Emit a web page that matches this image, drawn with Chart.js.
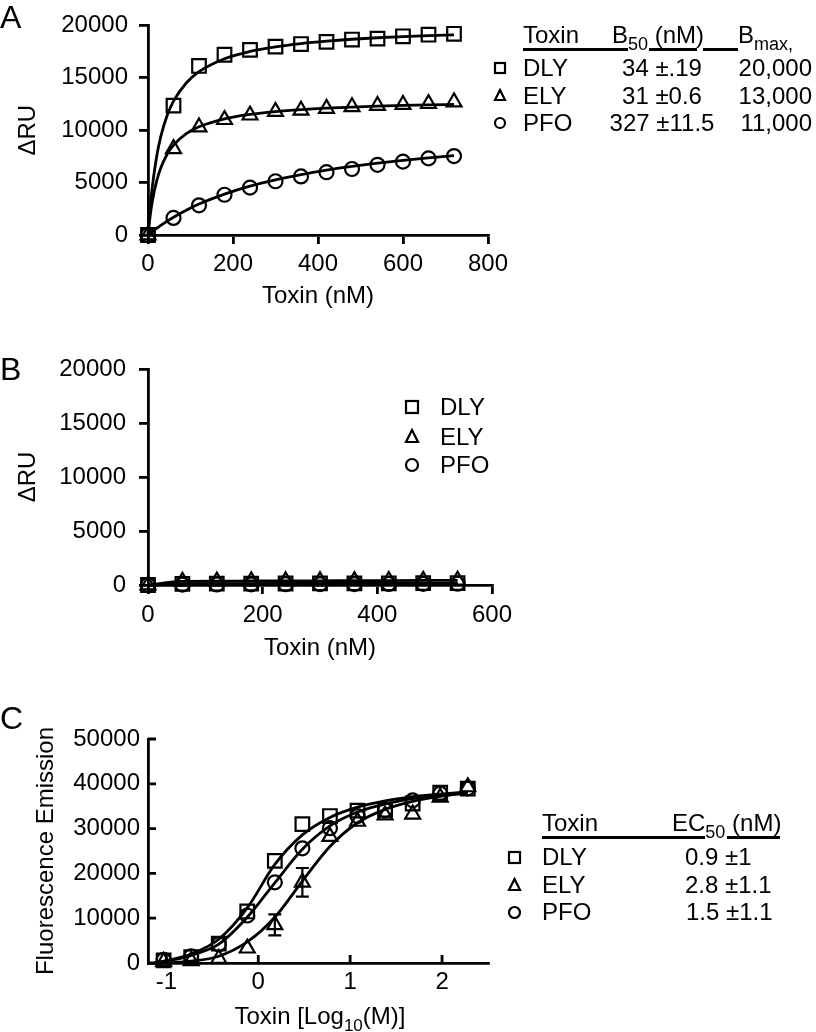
<!DOCTYPE html>
<html>
<head>
<meta charset="utf-8">
<script src="https://cdn.jsdelivr.net/npm/chart.js@4.4.1/dist/chart.umd.min.js"></script>
<style>
html,body{margin:0;padding:0;background:#fff;}
body{position:relative;width:816px;height:1032px;overflow:hidden;font-family:"Liberation Sans",Arial,Helvetica,sans-serif;color:#000;}
canvas{position:absolute;left:0;}
.t{position:absolute;font-size:24px;line-height:24px;white-space:nowrap;}
.t sub{font-size:18px;vertical-align:baseline;position:relative;top:7px;}
.lt{position:absolute;font-size:32px;line-height:32px;left:0;}
.ul{position:absolute;height:3px;background:#000;}
svg.mk{position:absolute;overflow:visible;}
</style>
</head>
<body>
<canvas id="cA" width="816" height="330" style="top:0px"></canvas>
<canvas id="cB" width="816" height="340" style="top:340px"></canvas>
<canvas id="cC" width="816" height="352" style="top:680px"></canvas>

<div class="lt" style="top:1px">A</div>
<div class="lt" style="top:353px">B</div>
<div class="lt" style="top:702px">C</div>

<!-- Panel A table -->
<div class="t" style="left:523px;top:22.7px">Toxin</div>
<div class="t" style="left:612px;top:22.7px">B<sub>50</sub> (nM)</div>
<div class="t" style="left:738px;top:22.7px">B<sub>max,</sub></div>
<div class="ul" style="left:523px;width:105px;top:48px"></div>
<div class="ul" style="left:649px;width:48px;top:48px"></div>
<div class="ul" style="left:703px;width:35px;top:48px"></div>
<div class="t" style="left:523px;top:56.3px">DLY</div>
<div class="t" style="left:523px;top:84.3px">ELY</div>
<div class="t" style="left:523px;top:111.3px">PFO</div>
<div class="t" style="left:602px;width:120px;text-align:center;top:56.3px">34 ±.19</div>
<div class="t" style="left:602px;width:120px;text-align:center;top:84.3px">31 ±0.6</div>
<div class="t" style="left:602px;width:120px;text-align:center;top:111.3px">327 ±11.5</div>
<div class="t" style="left:702px;width:110px;text-align:right;top:56.3px">20,000</div>
<div class="t" style="left:702px;width:110px;text-align:right;top:84.3px">13,000</div>
<div class="t" style="left:702px;width:110px;text-align:right;top:111.3px">11,000</div>

<!-- Panel B legend -->
<div class="t" style="left:440px;top:395.3px">DLY</div>
<div class="t" style="left:440px;top:425.3px">ELY</div>
<div class="t" style="left:440px;top:453.3px">PFO</div>

<!-- Panel C table -->
<div class="t" style="left:542px;top:810.7px">Toxin</div>
<div class="t" style="left:672px;top:810.7px">EC<sub>50</sub> (nM)</div>
<div class="ul" style="left:542px;width:163px;top:836px"></div>
<div class="ul" style="left:727px;width:53px;top:836px"></div>
<div class="t" style="left:542px;top:845.3px">DLY</div>
<div class="t" style="left:542px;top:873.3px">ELY</div>
<div class="t" style="left:542px;top:900.3px">PFO</div>
<div class="t" style="left:685px;top:845.3px">0.9 ±1</div>
<div class="t" style="left:685px;top:873.3px">2.8 ±1.1</div>
<div class="t" style="left:686px;top:900.3px">1.5 ±1.1</div>

<!-- Panel C x title -->
<div class="t" style="left:120px;width:400px;text-align:center;top:1003.5px">Toxin [Log<sub style="font-size:17px">10</sub>(M)]</div>

<script>
// ---------------- Data ----------------
// Panel A: binding (ΔRU) vs toxin (nM)
const aX    = [0, 60, 120, 180, 240, 300, 360, 420, 480, 540, 600, 660, 720];
const aDLY  = [0, 12350, 16130, 17200, 17670, 17970, 18220, 18430, 18650, 18740, 18960, 19110, 19200];
const aELY  = [0, 8230, 10290, 11000, 11430, 11770, 11890, 12070, 12230, 12350, 12440, 12530, 12690];
const aPFO  = [0, 1630, 2830, 3840, 4520, 5130, 5590, 5990, 6300, 6700, 7000, 7310, 7530];
// fitted curves
const aFitX    = [0, 5, 10, 20, 30, 45, 60, 90, 120, 180, 240, 300, 360, 420, 480, 540, 600, 660, 720];
const aDLYfit  = [0, 2560, 4550, 7400, 9380, 11400, 12770, 14500, 15580, 16820, 17520, 17960, 18270, 18500, 18680, 18820, 18930, 19020, 19100];
const aELYfit  = [0, 1810, 3170, 5100, 6390, 7700, 8570, 9670, 10330, 11090, 11510, 11780, 11970, 12110, 12210, 12290, 12360, 12420, 12460];
const aPFOfitX = [0, 30, 60, 90, 120, 180, 240, 300, 360, 420, 480, 540, 600, 660, 720];
const aPFOfit  = [0, 920, 1700, 2370, 2950, 3900, 4660, 5260, 5760, 6190, 6540, 6850, 7120, 7360, 7570];
const aXTicks = [0, 200, 400, 600, 800];
const aYTicks = [0, 5000, 10000, 15000, 20000];

// Panel B: control surface
const bX   = [0, 60, 120, 180, 240, 300, 360, 420, 480, 540];
const bDLY = [0, 100, 120, 130, 140, 150, 150, 160, 170, 180];
const bELY = [0, 330, 350, 370, 380, 390, 400, 410, 420, 430];
const bPFO = [0, 40, 50, 60, 70, 80, 90, 100, 110, 120];
const bXTicks = [0, 200, 400, 600];
const bYTicks = [0, 5000, 10000, 15000, 20000];

// Panel C: fluorescence vs log10 toxin
const cX   = [-1.03, -0.73, -0.43, -0.12, 0.18, 0.48, 0.78, 1.08, 1.38, 1.68, 1.98, 2.28];
const cDLY = [600, 1300, 4300, 11500, 22800, 31000, 32800, 34000, 34200, 35600, 38000, 38900];
const cELY = [300, 500, 1000, 3300, 8500, 18000, 28200, 31600, 33000, 33200, 37000, 39300];
const cPFO = [700, 1500, 4200, 10600, 18000, 25600, 30100, 32800, 34100, 36300, 37800, 39000];
const cELYerr = [0, 0, 0, 0, 2350, 3200, 0, 0, 0, 0, 0, 0];
const cFitX   = [-1.13, -1.03, -0.73, -0.43, -0.12, 0.18, 0.48, 0.78, 1.08, 1.38, 1.68, 1.98, 2.28];
const cDLYfit = [0, 400, 2000, 5300, 12300, 22000, 28600, 32500, 34800, 36200, 37100, 37700, 38200];
const cELYfit = [0, 0, 400, 1500, 4700, 10200, 18300, 26000, 31300, 34300, 36100, 37200, 37900];
const cPFOfit = [0, 300, 1700, 4200, 10200, 17900, 25400, 30600, 33700, 35500, 36700, 37500, 38100];
const cXTicks = [-1, 0, 1, 2];
const cYTicks = [0, 10000, 20000, 30000, 40000, 50000];

// ---------------- Helpers ----------------
const FONT = "'Liberation Sans', Arial, Helvetica, sans-serif";
const pts = (xs, ys) => xs.map((x, i) => ({x: x, y: ys[i]}));
const RAD = {rect: 9.6, circle: 7, triangle: 8.6};

function markers(xs, ys, style) {
  return {
    type: 'scatter', data: pts(xs, ys), showLine: false,
    pointStyle: style, pointRadius: RAD[style], pointHoverRadius: RAD[style],
    pointBorderWidth: 2.2, pointBorderColor: '#000', pointBackgroundColor: 'rgba(0,0,0,0)',
    clip: false, order: 1
  };
}
function curve(xs, ys) {
  return {
    type: 'scatter', data: pts(xs, ys), showLine: true,
    borderColor: '#000', borderWidth: 2.8, pointRadius: 0, pointHoverRadius: 0,
    cubicInterpolationMode: 'monotone', fill: false, clip: false, order: 2
  };
}
function axis(o) {
  return {
    type: 'linear', min: o.min, max: o.max,
    afterBuildTicks: s => { s.ticks = o.ticks.map(v => ({value: v})); },
    afterFit: s => { if (o.w !== undefined) s.width = o.w; if (o.h !== undefined) s.height = o.h; },
    grid: {display: true, drawOnChartArea: false, drawTicks: o.tl > 0, tickLength: o.tl || 0,
           tickWidth: 2.8, tickColor: '#000', color: '#000', lineWidth: 2.8},
    border: {display: true, color: '#000', width: 2.8},
    ticks: {color: '#000', font: {family: FONT, size: 24}, padding: o.pad, autoSkip: false,
            maxRotation: 0, minRotation: 0, callback: v => String(v)},
    title: o.title ? {display: true, text: o.title, color: '#000',
                      font: {family: FONT, size: 24, lineHeight: 1.2}, padding: o.tpad}
                   : {display: false}
  };
}
function baseOpts(padding, scales) {
  return {
    responsive: false, animation: false, events: [],
    layout: {padding: padding},
    plugins: {legend: {display: false}, tooltip: {enabled: false}},
    scales: scales
  };
}

// ---------------- Panel A ----------------
new Chart(document.getElementById('cA'), {
  type: 'scatter',
  data: {datasets: [
    curve(aFitX, aDLYfit), curve(aFitX, aELYfit), curve(aPFOfitX, aPFOfit),
    markers(aX, aDLY, 'rect'), markers(aX, aELY, 'triangle'), markers(aX, aPFO, 'circle')
  ]},
  options: baseOpts({left: 0, top: 18, right: 328, bottom: 0}, {
    x: axis({min: 0, max: 800, ticks: aXTicks, h: 95, tl: 9, pad: 6, title: 'Toxin (nM)', tpad: {top: 0, bottom: 19.6}}),
    y: axis({min: 0, max: 20000, ticks: aYTicks, w: 148, tl: 9, pad: 11, title: 'ΔRU', tpad: {top: 13.6, bottom: 0}})
  })
});

// ---------------- Panel B ----------------
new Chart(document.getElementById('cB'), {
  type: 'scatter',
  data: {datasets: [
    curve(bX, bDLY), curve(bX, bELY), curve(bX, bPFO),
    markers(bX, bDLY, 'rect'), markers(bX, bELY, 'triangle'), markers(bX, bPFO, 'circle')
  ]},
  options: baseOpts({left: 0, top: 29, right: 324, bottom: 0}, {
    x: axis({min: 0, max: 600, ticks: bXTicks, h: 95, tl: 9, pad: 7, title: 'Toxin (nM)', tpad: {top: 0, bottom: 17.6}}),
    y: axis({min: 0, max: 20000, ticks: bYTicks, w: 148, tl: 9, pad: 13, title: 'ΔRU', tpad: {top: 13.6, bottom: 0}})
  })
});

// ---------------- Panel C ----------------
const inwardTicks = {
  id: 'inwardTicks',
  afterDraw(chart) {
    const ctx = chart.ctx, x = chart.scales.x, y = chart.scales.y, ca = chart.chartArea;
    ctx.save();
    ctx.strokeStyle = '#000'; ctx.lineWidth = 2.8;
    ctx.beginPath();
    cXTicks.forEach(v => { const px = x.getPixelForValue(v); ctx.moveTo(px, ca.bottom); ctx.lineTo(px, ca.bottom - 8); });
    cYTicks.forEach(v => { const py = y.getPixelForValue(v); ctx.moveTo(ca.left, py); ctx.lineTo(ca.left + 8, py); });
    ctx.stroke();
    ctx.restore();
  }
};
const errorBars = {
  id: 'errorBars',
  afterDatasetsDraw(chart) {
    const ctx = chart.ctx, x = chart.scales.x, y = chart.scales.y;
    ctx.save();
    ctx.strokeStyle = '#000'; ctx.lineWidth = 2.2;
    cX.forEach((xv, i) => {
      const e = cELYerr[i];
      if (!e) return;
      const px = x.getPixelForValue(xv);
      const y1 = y.getPixelForValue(cELY[i] + e), y2 = y.getPixelForValue(cELY[i] - e);
      ctx.beginPath();
      ctx.moveTo(px, y1); ctx.lineTo(px, y2);
      ctx.moveTo(px - 6.5, y1); ctx.lineTo(px + 6.5, y1);
      ctx.moveTo(px - 6.5, y2); ctx.lineTo(px + 6.5, y2);
      ctx.stroke();
    });
    ctx.restore();
  }
};
new Chart(document.getElementById('cC'), {
  type: 'scatter',
  data: {datasets: [
    curve(cFitX, cDLYfit), curve(cFitX, cELYfit), curve(cFitX, cPFOfit),
    markers(cX, cDLY, 'rect'), markers(cX, cELY, 'triangle'), markers(cX, cPFO, 'circle')
  ]},
  options: baseOpts({left: 0, top: 59, right: 328, bottom: 0}, {
    x: axis({min: -1.2, max: 2.5, ticks: cXTicks, h: 69, tl: 0, pad: 5}),
    y: axis({min: 0, max: 50000, ticks: cYTicks, w: 148, tl: 0, pad: 8, title: 'Fluorescence Emission', tpad: {top: 31.6, bottom: 0}})
  }),
  plugins: [inwardTicks, errorBars]
});

// ---------------- Legend symbols ----------------
function mk(shape, cx, cy, s) {
  const ns = 'http://www.w3.org/2000/svg';
  const svg = document.createElementNS(ns, 'svg');
  svg.setAttribute('class', 'mk');
  svg.setAttribute('width', s + 4); svg.setAttribute('height', s + 4);
  svg.style.left = (cx - s / 2 - 2) + 'px'; svg.style.top = (cy - s / 2 - 2) + 'px';
  let el;
  if (shape === 'rect') {
    el = document.createElementNS(ns, 'rect');
    el.setAttribute('x', 3); el.setAttribute('y', 3);
    el.setAttribute('width', s - 2); el.setAttribute('height', s - 2);
  } else if (shape === 'circle') {
    el = document.createElementNS(ns, 'circle');
    el.setAttribute('cx', s / 2 + 2); el.setAttribute('cy', s / 2 + 2); el.setAttribute('r', (s - 2) / 2);
  } else {
    el = document.createElementNS(ns, 'polygon');
    el.setAttribute('points', (s / 2 + 2) + ',3 3,' + (s + 1) + ' ' + (s + 1) + ',' + (s + 1));
  }
  el.setAttribute('fill', 'none'); el.setAttribute('stroke', '#000'); el.setAttribute('stroke-width', 2.2);
  svg.appendChild(el);
  document.body.appendChild(svg);
}
mk('rect', 500, 68, 12); mk('triangle', 500, 95, 12); mk('circle', 500, 123, 12);
mk('rect', 412, 407, 14); mk('triangle', 412, 436, 14); mk('circle', 412, 465, 14);
mk('rect', 514, 857, 13); mk('triangle', 514, 884, 13); mk('circle', 514, 912, 13);
</script>
</body>
</html>
